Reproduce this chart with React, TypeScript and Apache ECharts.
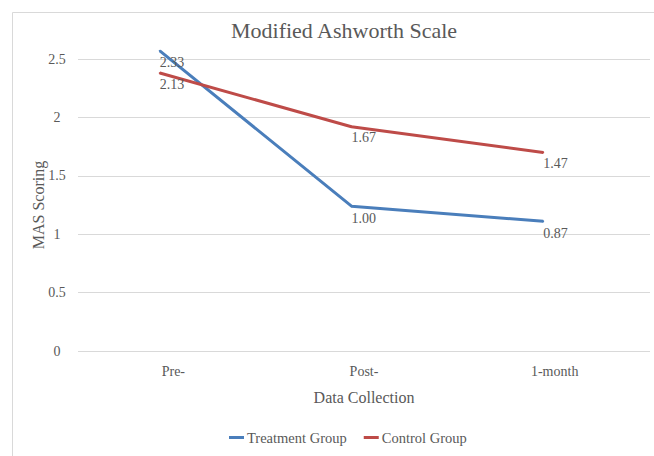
import React, { useEffect, useRef } from "react";
import * as echarts from "echarts";

const categories = ["Pre-", "Post-", "1-month"];
const treatmentValues = [2.57, 1.24, 1.11];
const controlValues = [2.38, 1.92, 1.7];
const treatmentLabels = ["2.33", "1.00", "0.87"];
const controlLabels = ["2.13", "1.67", "1.47"];
const yTicks = [0, 0.5, 1, 1.5, 2, 2.5];

const FONT = "'Liberation Serif', 'DejaVu Serif', serif";
const GRAY = "#595959";
const BLUE = "#4a7ebb";
const RED = "#be4b48";

export default function App() {
  const ref = useRef<HTMLDivElement>(null);
  useEffect(() => {
    if (!ref.current) return;
    const chart = echarts.init(ref.current, undefined, { renderer: "svg" });
    const yMin = yTicks[0];
    const yMax = yTicks[yTicks.length - 1];
    const interval = yTicks[1] - yTicks[0];
    const labelStyle = (texts: string[], distance: number) => ({
      show: true,
      position: "bottom",
      align: "left",
      distance,
      fontFamily: FONT,
      fontSize: 14,
      color: GRAY,
      opacity: 1,
      formatter: (p: any) => texts[p.dataIndex],
    });
    chart.setOption({
      animation: false,
      backgroundColor: "#ffffff",
      textStyle: { fontFamily: FONT },
      title: {
        text: "Modified Ashworth Scale",
        left: 339,
        textAlign: "center",
        top: 14,
        textStyle: { fontFamily: FONT, fontSize: 22, fontWeight: "normal", color: GRAY },
      },
      graphic: [
        {
          type: "rect",
          shape: { x: 12.5, y: 12.5, width: 700, height: 500 },
          style: { fill: "none", stroke: "#d9d9d9", lineWidth: 1 },
          silent: true,
          z: -10,
        },
      ],
      legend: {
        left: 229,
        top: 430,
        padding: 0,
        itemWidth: 15,
        itemHeight: 3,
        itemGap: 17,
        icon: "rect",
        textStyle: { fontFamily: FONT, fontSize: 14.5, color: GRAY, padding: [0, 0, 0, -2] },
        data: ["Treatment Group", "Control Group"],
      },
      grid: [
        { left: 78, right: 4, top: 59, bottom: 105 },
        { left: 64, right: 15, top: 59, bottom: 105 },
      ],
      xAxis: [
        {
          gridIndex: 0,
          type: "category",
          data: categories,
          boundaryGap: true,
          axisLine: { show: false },
          axisTick: { show: false },
          axisLabel: { fontFamily: FONT, fontSize: 14, color: GRAY, margin: 13 },
          name: "Data Collection",
          nameLocation: "middle",
          nameGap: 38,
          nameMoveOverlap: false,
          nameTextStyle: { fontFamily: FONT, fontSize: 16, color: GRAY },
        },
        {
          gridIndex: 1,
          type: "category",
          data: categories,
          boundaryGap: true,
          show: false,
        },
      ],
      yAxis: [
        {
          gridIndex: 0,
          type: "value",
          min: yMin,
          max: yMax,
          interval: interval,
          axisLine: { show: false },
          axisTick: { show: false },
          splitLine: { lineStyle: { color: "#d9d9d9", width: 1 } },
          axisLabel: { fontFamily: FONT, fontSize: 14, color: GRAY, align: "center", margin: 21 },
          name: "MAS Scoring",
          nameLocation: "middle",
          nameGap: 32,
          nameMoveOverlap: false,
          nameTextStyle: { fontFamily: FONT, fontSize: 16, color: GRAY },
        },
        {
          gridIndex: 1,
          type: "value",
          min: yMin,
          max: yMax,
          interval: interval,
          show: false,
        },
      ],
      series: [
        {
          name: "Treatment Group",
          type: "line",
          xAxisIndex: 1,
          yAxisIndex: 1,
          data: treatmentValues,
          clip: false,
          showSymbol: true,
          symbol: "circle",
          symbolSize: 2,
          itemStyle: { color: BLUE },
          color: BLUE,
          lineStyle: { width: 3, color: BLUE },
          label: labelStyle(treatmentLabels, 4),
        },
        {
          name: "Control Group",
          type: "line",
          xAxisIndex: 1,
          yAxisIndex: 1,
          data: controlValues,
          clip: false,
          showSymbol: true,
          symbol: "circle",
          symbolSize: 2,
          itemStyle: { color: RED },
          color: RED,
          lineStyle: { width: 3, color: RED },
          label: labelStyle(controlLabels, 3),
        },
      ],
    });
    return () => chart.dispose();
  }, []);
  return (
    <div
      ref={ref}
      style={{ position: "fixed", left: 0, top: 0, width: 654, height: 456 }}
    />
  );
}
